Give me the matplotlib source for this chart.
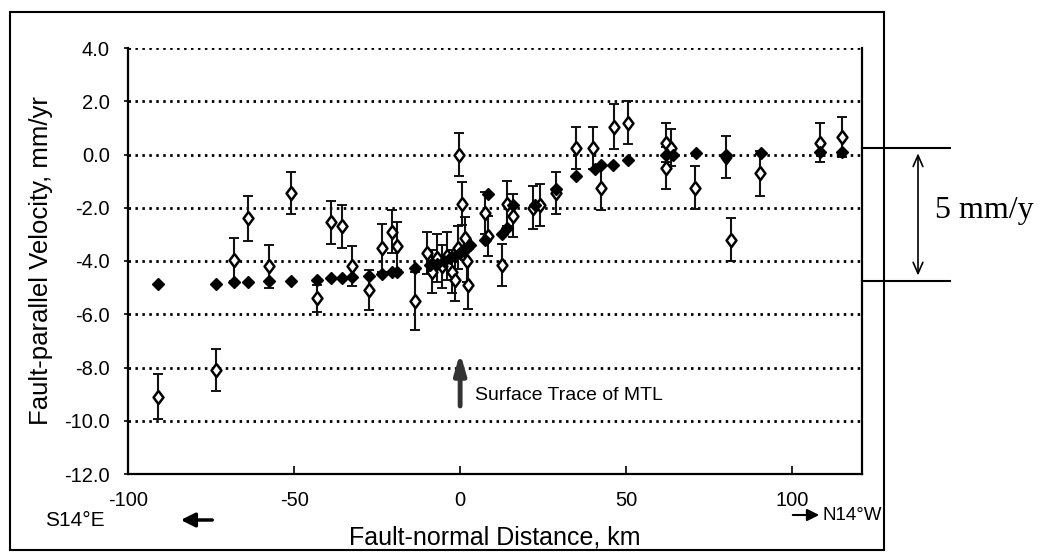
import matplotlib
matplotlib.use("Agg")
import matplotlib.pyplot as plt
from matplotlib.patches import Rectangle, FancyArrowPatch
from matplotlib.ticker import FuncFormatter
from matplotlib.transforms import blended_transform_factory

plt.rcParams['font.family'] = ['Liberation Sans', 'DejaVu Sans']

# modelo (diamantes rellenos)
model_x = [-91, -73.5, -68, -64, -57.5, -51, -43, -39, -35.5, -32.5, -27.5, -23.5,
           -20.5, -19, -13.5, -9, -7, -5, -3, -1.5, 0, 1, 2, 3, 7.5, 8.5, 12.5,
           14, 16, 22.5, 29, 35, 40.5, 42.5, 46, 50.5, 62, 64, 71, 80, 90.5,
           108.5, 115]
model_y = [-4.85, -4.85, -4.8, -4.8, -4.75, -4.75, -4.7, -4.65, -4.65, -4.6, -4.55,
           -4.5, -4.4, -4.4, -4.25, -4.15, -4.1, -4.0, -3.9, -3.8, -3.7, -3.6,
           -3.5, -3.4, -3.2, -1.5, -3.0, -2.75, -1.9, -1.9, -1.3, -0.8, -0.55,
           -0.4, -0.4, -0.2, 0.0, 0.0, 0.05, 0.0, 0.05, 0.1, 0.1]

# observado (diamantes abiertos con barras de error)
obs_x = [-91, -73.5, -68, -64, -57.5, -51, -43, -39, -35.5, -32.5, -27.5, -23.5,
         -20.5, -19, -13.5, -10, -8.5, -7, -5.5, -4, -2.5, -1.5, -0.5, -0.3, 0.6,
         1.5, 2, 2.5, 7.5, 8.5, 12.5, 14, 16, 22, 24, 29, 35, 40, 42.3, 46.2,
         50.4, 62, 62, 63.6, 70.8, 80, 81.5, 90.4, 108.4, 115]
obs_y = [-9.1, -8.1, -3.95, -2.4, -4.2, -1.45, -5.4, -2.55, -2.7, -4.2, -5.1, -3.5,
         -2.9, -3.45, -5.5, -3.7, -4.4, -3.9, -4.2, -3.8, -4.4, -4.7, -3.5, 0.0,
         -1.85, -3.15, -4.0, -4.9, -2.2, -3.05, -4.15, -1.85, -2.3, -2.0, -1.9,
         -1.45, 0.25, 0.25, -1.25, 1.05, 1.2, 0.45, -0.5, 0.25, -1.25, -0.1,
         -3.2, -0.7, 0.45, 0.65]
obs_err = [0.85, 0.8, 0.8, 0.85, 0.8, 0.8, 0.5, 0.8, 0.8, 0.75, 0.75, 0.9,
           0.8, 0.9, 1.1, 0.8, 0.8, 0.9, 0.8, 0.9, 0.8, 0.8, 0.8, 0.8, 0.8,
           0.8, 0.8, 0.9, 0.8, 0.75, 0.8, 0.85, 0.8, 0.8, 0.8, 0.8, 0.8, 0.8,
           0.85, 0.85, 0.8, 0.75, 0.8, 0.7, 0.8, 0.8, 0.8, 0.85, 0.75, 0.75]

y_ticks = [4.0, 2.0, 0.0, -2.0, -4.0, -6.0, -8.0, -10.0, -12.0]
x_ticks = [-100, -50, 0, 50, 100]
scale_top = 0.25
scale_bottom = -4.75

W, H = 1042, 560
fig = plt.figure(figsize=(W / 100, H / 100), dpi=100)
ax = fig.add_axes([128 / W, 1 - 474 / H, (862 - 128) / W, (474 - 48) / H])

ax.set_xlim(-100, 121)
ax.set_ylim(-12, 4)

# lineas punteadas horizontales
for yv in y_ticks[:-1]:
    ax.axhline(yv, color='black', lw=2.0, dashes=(0.9, 1.6), zorder=1)

rombo = [(0, 1), (0.75, 0), (0, -1), (-0.75, 0), (0, 1)]
ax.errorbar(obs_x, obs_y, yerr=obs_err, fmt='none', ecolor='#111111',
            elinewidth=1.5, capsize=3.5, capthick=1.4, zorder=2)
ax.plot(obs_x, obs_y, linestyle='none', marker=rombo, ms=9.5, mfc='white',
        mec='black', mew=1.8, zorder=3)
ax.plot(model_x, model_y, 'D', ms=6.3, color='black', zorder=4)

ax.spines['top'].set_visible(False)
for s in ['left', 'right', 'bottom']:
    ax.spines[s].set_linewidth(1.6)

ax.set_xticks(x_ticks)
ax.set_yticks(y_ticks)
ax.xaxis.set_major_formatter(FuncFormatter(lambda v, p: f"{v:.0f}"))
ax.yaxis.set_major_formatter(FuncFormatter(lambda v, p: f"{v:.1f}"))
ax.tick_params(axis='x', direction='in', length=6, width=1.2, labelsize=14.5, pad=12)
ax.tick_params(axis='y', direction='out', length=3, width=1.2, labelsize=14.5, pad=10)

ax.set_ylabel("Fault-parallel Velocity, mm/yr", fontsize=18.5, labelpad=8)
fig.text(495 / W, 1 - 537 / H, "Fault-normal Distance, km", fontsize=18,
         ha='center', va='center')

# traza superficial
ax.annotate("", xy=(0, -7.35), xytext=(0, -9.55),
            arrowprops=dict(arrowstyle="-|>,head_width=0.35,head_length=1.2",
                            color='#333333', lw=3.5))
ax.text(4.5, -9.05, "Surface Trace of MTL", fontsize=14, ha='left', va='center')

# barra de escala 5 mm/y
tr = blended_transform_factory(ax.transAxes, ax.transData)
x_end = (950 - 128) / (862 - 128)
x_arr = (918 - 128) / (862 - 128)
for yv in [scale_top, scale_bottom]:
    ax.plot([1.0, x_end], [yv, yv], color='black', lw=1.5, transform=tr, clip_on=False)
ax.annotate("", xy=(x_arr, scale_top - 0.1), xytext=(x_arr, scale_bottom + 0.1),
            xycoords=tr, textcoords=tr,
            arrowprops=dict(arrowstyle="<->,head_width=0.35,head_length=0.8",
                            color='black', lw=1.2))
ax.text((935 - 128) / (862 - 128), (scale_top + scale_bottom) / 2 + 0.15, "5 mm/y",
        transform=tr, fontsize=23, family='Liberation Serif', ha='left', va='center')

# direcciones
fig.text(45 / W, 1 - 521 / H, "S14°E", fontsize=15, ha='left', va='center')
fig.patches.append(FancyArrowPatch(
    (215 / W, 1 - 520 / H), (178 / W, 1 - 520 / H), transform=fig.transFigure,
    arrowstyle="-|>,head_width=0.3,head_length=0.6", color='black', lw=2.5,
    mutation_scale=14))
fig.patches.append(FancyArrowPatch(
    (790 / W, 1 - 515 / H), (822 / W, 1 - 515 / H), transform=fig.transFigure,
    arrowstyle="-|>,head_width=0.3,head_length=0.6", color='black', lw=1.5,
    mutation_scale=12))
fig.text(823 / W, 1 - 515 / H, "N14°W", fontsize=13.5, ha='left', va='center')

# marco exterior
fig.patches.append(Rectangle((10 / W, 1 - 550 / H), 874 / W, 538 / H,
                             transform=fig.transFigure, fill=False, lw=1.5,
                             color='black'))

fig.savefig("out.png", dpi=100)
